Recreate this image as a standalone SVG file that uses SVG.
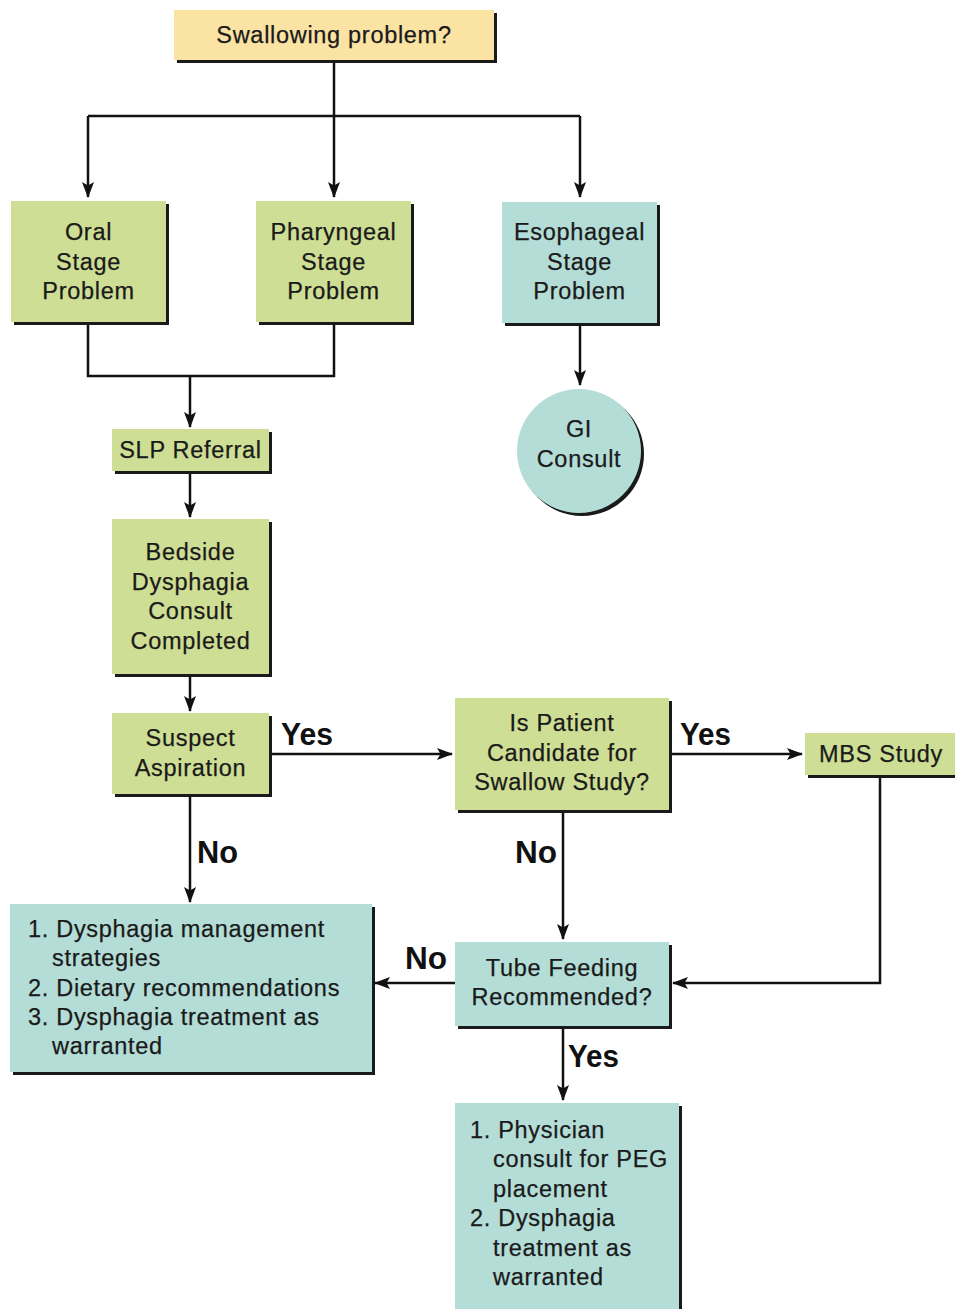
<svg xmlns="http://www.w3.org/2000/svg" width="955" height="1309" viewBox="0 0 955 1309">
<defs>
<marker id="ah" viewBox="0 0 16 12" refX="15" refY="6" markerWidth="16" markerHeight="12" markerUnits="userSpaceOnUse" orient="auto">
<path d="M0,0 L16,6 L0,12 L3.5,6 Z" fill="#111"/>
</marker>
<style>
.sh{fill:#1a1a1a}
.y{fill:#FAE3A3}
.g{fill:#CFDE95}
.t{fill:#B4DDD7}
.tx{font-family:"Liberation Sans",Arial,sans-serif;font-size:23.5px;letter-spacing:0.7px;fill:#1a1a1a;stroke:#1a1a1a;stroke-width:0.25;text-anchor:middle}
.ls{text-anchor:start}
.lb{font-family:"Liberation Sans",Arial,sans-serif;font-size:31px;font-weight:bold;fill:#111}
.c{fill:none;stroke:#111;stroke-width:2.5}
.ca{fill:none;stroke:#111;stroke-width:2.5;marker-end:url(#ah)}
</style>
</defs>
<rect width="955" height="1309" fill="#fff"/>

<g id="connectors">
<path class="ca" d="M334,62 V197"/>
<path class="c" d="M88,116 H580"/>
<path class="ca" d="M88,116 V197"/>
<path class="ca" d="M580,116 V197"/>
<path class="c" d="M88,324 V376 H334 V324"/>
<path class="ca" d="M190,376 V427"/>
<path class="ca" d="M580,325 V385"/>
<path class="ca" d="M190,474 V517"/>
<path class="ca" d="M190,677 V711"/>
<path class="ca" d="M271,754 H452"/>
<path class="ca" d="M672,754 H802"/>
<path class="ca" d="M190,797 V902"/>
<path class="ca" d="M563,812 V939"/>
<path class="ca" d="M880,777 V983 H673"/>
<path class="ca" d="M455,983 H375"/>
<path class="ca" d="M563,1029 V1100"/>
<text class="lb" x="281" y="745" textLength="52" lengthAdjust="spacingAndGlyphs">Yes</text>
<text class="lb" x="680" y="745" textLength="51" lengthAdjust="spacingAndGlyphs">Yes</text>
<text class="lb" x="197" y="863" textLength="41" lengthAdjust="spacingAndGlyphs">No</text>
<text class="lb" x="515" y="863" textLength="42" lengthAdjust="spacingAndGlyphs">No</text>
<text class="lb" x="405" y="969" textLength="42" lengthAdjust="spacingAndGlyphs">No</text>
<text class="lb" x="568" y="1067" textLength="51" lengthAdjust="spacingAndGlyphs">Yes</text>
</g>

<g id="swallowing">
<rect class="sh" x="177" y="13" width="320" height="50"/>
<rect class="y" x="174" y="10" width="320" height="50"/>
<text class="tx" x="334" y="43">Swallowing problem?</text>
</g>

<g id="oral">
<rect class="sh" x="14" y="204" width="155" height="121"/>
<rect class="g" x="11" y="201" width="155" height="121"/>
<text class="tx" x="88.5" y="240">Oral</text>
<text class="tx" x="88.5" y="269.5">Stage</text>
<text class="tx" x="88.5" y="299">Problem</text>
</g>

<g id="pharyngeal">
<rect class="sh" x="259" y="204" width="155" height="121"/>
<rect class="g" x="256" y="201" width="155" height="121"/>
<text class="tx" x="333.5" y="240">Pharyngeal</text>
<text class="tx" x="333.5" y="269.5">Stage</text>
<text class="tx" x="333.5" y="299">Problem</text>
</g>

<g id="esophageal">
<rect class="sh" x="505" y="205" width="155" height="121"/>
<rect class="t" x="502" y="202" width="155" height="121"/>
<text class="tx" x="579.5" y="240">Esophageal</text>
<text class="tx" x="579.5" y="269.5">Stage</text>
<text class="tx" x="579.5" y="299">Problem</text>
</g>

<g id="gi">
<circle class="sh" cx="582" cy="454" r="62"/>
<circle class="t" cx="579" cy="451" r="62"/>
<text class="tx" x="579" y="437">GI</text>
<text class="tx" x="579" y="467">Consult</text>
</g>

<g id="slp">
<rect class="sh" x="115" y="432" width="157" height="42"/>
<rect class="g" x="112" y="429" width="157" height="42"/>
<text class="tx" x="190.5" y="458">SLP Referral</text>
</g>

<g id="bedside">
<rect class="sh" x="115" y="522" width="157" height="155"/>
<rect class="g" x="112" y="519" width="157" height="155"/>
<text class="tx" x="190.5" y="560">Bedside</text>
<text class="tx" x="190.5" y="589.5">Dysphagia</text>
<text class="tx" x="190.5" y="619">Consult</text>
<text class="tx" x="190.5" y="648.5">Completed</text>
</g>

<g id="suspect">
<rect class="sh" x="115" y="716" width="157" height="81"/>
<rect class="g" x="112" y="713" width="157" height="81"/>
<text class="tx" x="190.5" y="746">Suspect</text>
<text class="tx" x="190.5" y="776">Aspiration</text>
</g>

<g id="candidate">
<rect class="sh" x="458" y="701" width="214" height="112"/>
<rect class="g" x="455" y="698" width="214" height="112"/>
<text class="tx" x="562" y="731">Is Patient</text>
<text class="tx" x="562" y="761">Candidate for</text>
<text class="tx" x="562" y="790">Swallow Study?</text>
</g>

<g id="mbs">
<rect class="sh" x="808" y="736" width="155" height="42"/>
<rect class="g" x="805" y="733" width="155" height="42"/>
<text class="tx" x="881" y="762">MBS Study</text>
</g>

<g id="tube">
<rect class="sh" x="458" y="945" width="214" height="84"/>
<rect class="t" x="455" y="942" width="214" height="84"/>
<text class="tx" x="562" y="976">Tube Feeding</text>
<text class="tx" x="562" y="1005">Recommended?</text>
</g>

<g id="management">
<rect class="sh" x="13" y="907" width="362" height="168"/>
<rect class="t" x="10" y="904" width="362" height="168"/>
<text class="tx ls" x="28" y="937">1. Dysphagia management</text>
<text class="tx ls" x="52" y="966">strategies</text>
<text class="tx ls" x="28" y="996">2. Dietary recommendations</text>
<text class="tx ls" x="28" y="1025">3. Dysphagia treatment as</text>
<text class="tx ls" x="52" y="1054">warranted</text>
</g>

<g id="physician">
<rect class="sh" x="458" y="1106" width="224" height="210"/>
<rect class="t" x="455" y="1103" width="224" height="210"/>
<text class="tx ls" x="470" y="1138">1. Physician</text>
<text class="tx ls" x="493" y="1167">consult for PEG</text>
<text class="tx ls" x="493" y="1197">placement</text>
<text class="tx ls" x="470" y="1226">2. Dysphagia</text>
<text class="tx ls" x="493" y="1256">treatment as</text>
<text class="tx ls" x="493" y="1285">warranted</text>
</g>
</svg>
